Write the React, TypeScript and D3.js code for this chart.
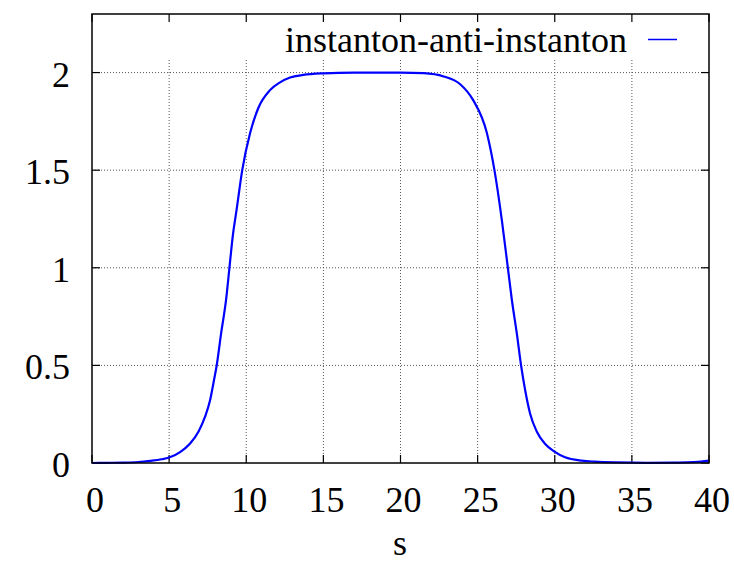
import React from "react";
import * as d3 from "d3";

const sValues = [0, 1, 2, 3, 3.76, 4.5, 5, 5.71, 6.36, 6.9, 7.33, 7.65, 7.91, 8.08, 8.37, 8.69, 8.91, 9.13, 9.38, 9.74, 10.25, 10.79, 11.54, 12.19, 12.84, 13.7, 15, 17, 20, 21.5, 22.8, 23.87, 24.7, 25.6, 26.09, 26.57, 26.96, 27.22, 27.54, 27.82, 28.08, 28.4, 28.84, 29.38, 29.98, 30.67, 31.76, 32.6, 34, 36, 38, 39, 39.5, 40];
const yValues = [0, 0.001, 0.002, 0.005, 0.011, 0.019, 0.028, 0.056, 0.1, 0.16, 0.237, 0.32, 0.425, 0.498, 0.664, 0.835, 1.0, 1.165, 1.3, 1.5, 1.69, 1.82, 1.91, 1.95, 1.975, 1.988, 1.996, 2.0, 2.0, 1.997, 1.98, 1.94, 1.86, 1.69, 1.5, 1.244, 1.0, 0.835, 0.664, 0.498, 0.374, 0.254, 0.16, 0.097, 0.058, 0.029, 0.012, 0.007, 0.003, 0.001, 0.002, 0.004, 0.007, 0.012];
const xTicks = [0, 5, 10, 15, 20, 25, 30, 35, 40];
const yTicks = [0, 0.5, 1, 1.5, 2];
const yTickLabels = ["0", "0.5", "1", "1.5", "2"];
const seriesName = "instanton-anti-instanton";
const xLabel = "s";

const W = 734, H = 564;
const L = 92, R = 709, T = 14, B = 463;
const FONT = "Liberation Serif, Times New Roman, Times, serif";
const FS = 36;

export default function App() {
  const x = d3.scaleLinear().domain([0, 40]).range([L, R]);
  const y = d3.scaleLinear().domain([0, 2.3]).range([B, T]);
  const pts = sValues.map((s, i) => [s, yValues[i]] as [number, number]);
  const line = d3.line<[number, number]>().x(d => x(d[0])).y(d => y(d[1])).curve(d3.curveMonotoneX);
  const gridTop = T + 44;
  const tick = 8;
  const ts: React.CSSProperties = { fontFamily: FONT, fontSize: FS };
  return (
    <svg width={W} height={H} style={{ position: "absolute", left: 0, top: 0 }}>
      <rect x={0} y={0} width={W} height={H} fill="white" />
      {xTicks.slice(1, -1).map(t => (
        <line key={"gx" + t} x1={x(t)} x2={x(t)} y1={B} y2={gridTop} stroke="#555" strokeWidth={1} strokeDasharray="1,2" />
      ))}
      {yTicks.slice(1).map(t => (
        <line key={"gy" + t} x1={L} x2={R} y1={y(t)} y2={y(t)} stroke="#555" strokeWidth={1} strokeDasharray="1,2" />
      ))}
      {xTicks.map(t => (
        <g key={"tx" + t}>
          <line x1={x(t)} x2={x(t)} y1={B} y2={B - tick} stroke="black" strokeWidth={1.2} />
          <line x1={x(t)} x2={x(t)} y1={T} y2={T + tick} stroke="black" strokeWidth={1.2} />
          <text x={x(t) + 3} y={512} style={ts} textAnchor="middle" fill="black">{t}</text>
        </g>
      ))}
      {yTicks.map((t, i) => (
        <g key={"ty" + t}>
          <line x1={L} x2={L + tick} y1={y(t)} y2={y(t)} stroke="black" strokeWidth={1.2} />
          <line x1={R} x2={R - tick} y1={y(t)} y2={y(t)} stroke="black" strokeWidth={1.2} />
          <text x={70} y={y(t) + 14} style={ts} textAnchor="end" fill="black">{yTickLabels[i]}</text>
        </g>
      ))}
      <path d={line(pts) ?? ""} fill="none" stroke="#0000ff" strokeWidth={2.2} strokeLinejoin="round" />
      <rect x={L} y={T} width={R - L} height={B - T} fill="none" stroke="black" strokeWidth={1.5} />
      <text x={627} y={52} style={ts} textAnchor="end" fill="black">{seriesName}</text>
      <line x1={648} x2={677} y1={39.5} y2={39.5} stroke="#0000ff" strokeWidth={1.5} />
      <text x={400} y={555} style={ts} textAnchor="middle" fill="black">{xLabel}</text>
    </svg>
  );
}
